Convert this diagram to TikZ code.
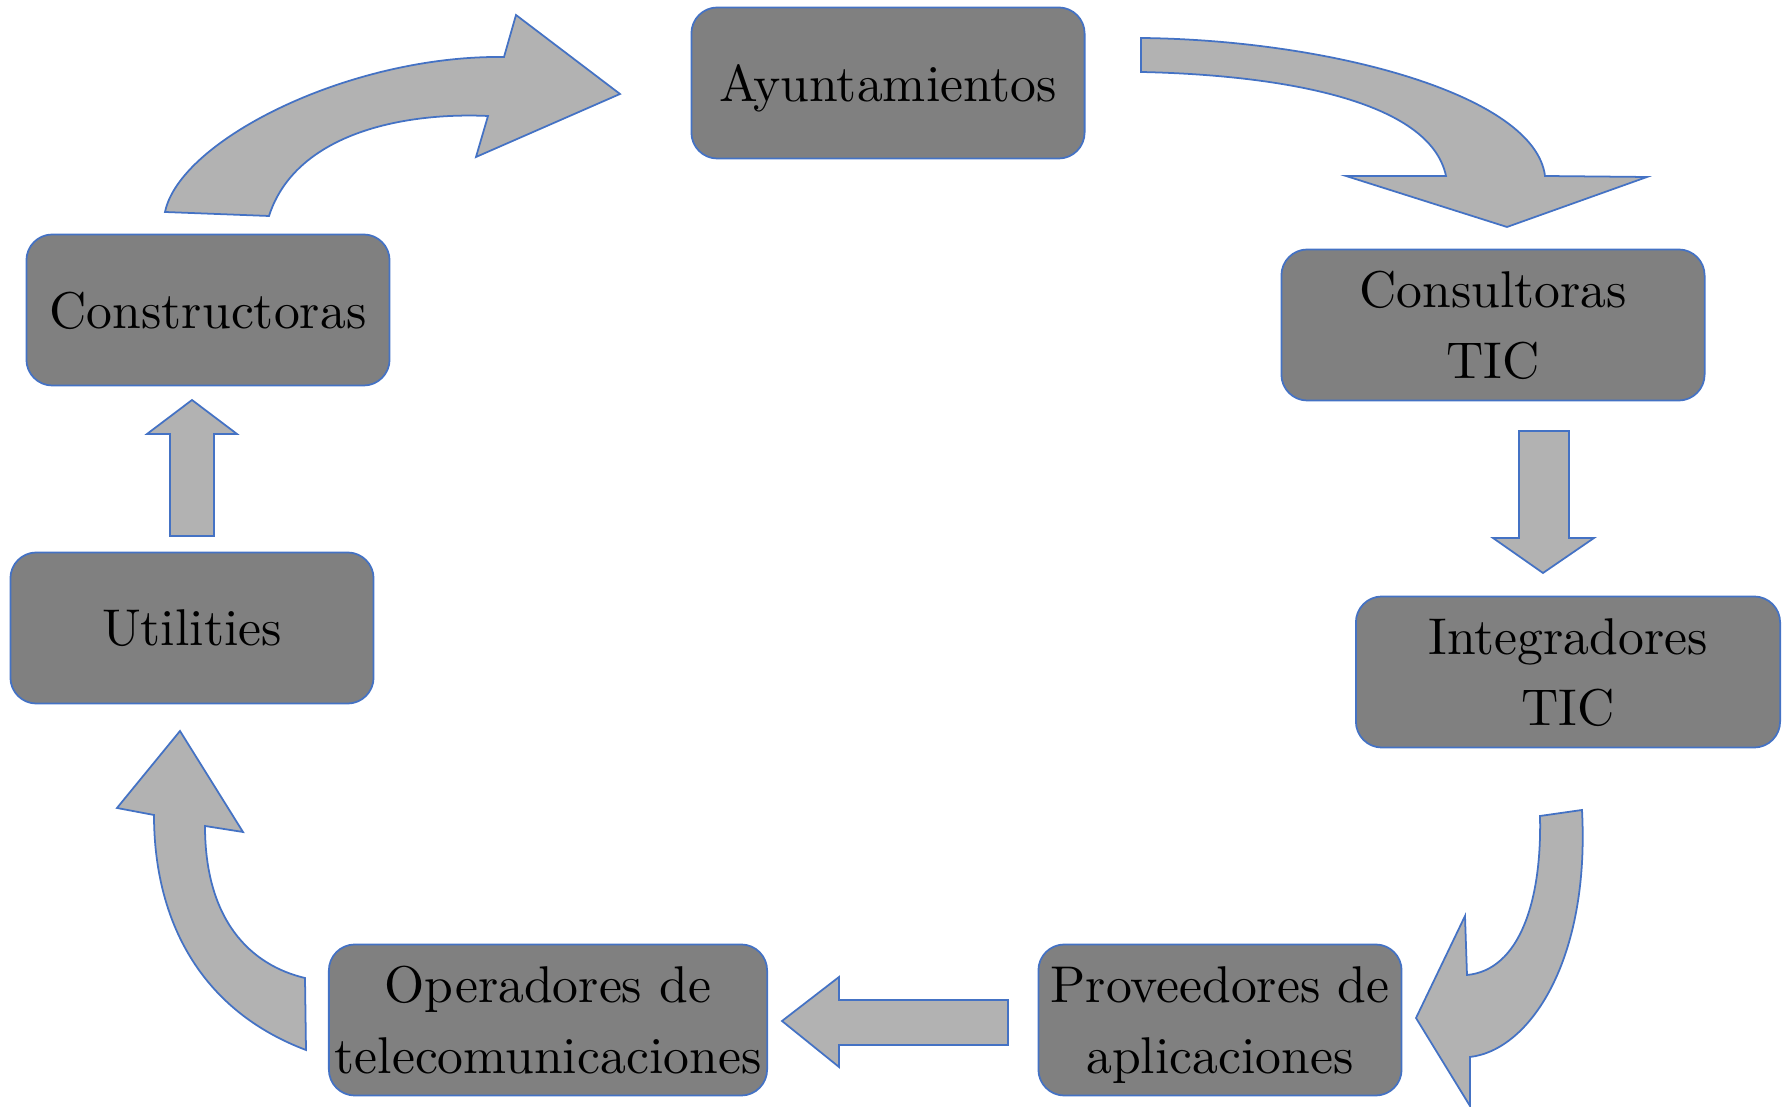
\documentclass[tikz,border=0pt]{standalone}
\usepackage{fontspec}
\setmainfont{lmroman10-regular.otf}
\usepackage{tikz}

\definecolor{boxgray}{HTML}{808080}
\definecolor{flowgray}{HTML}{B2B2B2}
\definecolor{edgeblue}{HTML}{4472C4}

\begin{document}
\begin{tikzpicture}[x=0.01cm, y=-0.01cm,
	actor/.style={draw=edgeblue, line width=0.5pt, fill=boxgray, rounded corners=0.26cm, minimum height=1.51cm, align=center, inner sep=0pt, text depth=0pt, font=\fontsize{14.7}{20.1}\selectfont},
	flow/.style={draw=edgeblue, line width=0.5pt, fill=flowgray, line join=miter}]

		\def \boxw {3.63} %in cm
		
		\useasboundingbox (0,0) rectangle (1784,1107);
		
		\node (Ayto) at (888,83) [actor, minimum width = 3.93cm]{Ayuntamientos};
		\node (Consul) at (1493,325) [actor, minimum width = 4.23cm]{Consultoras\\TIC};
		\node (Integ) at (1568,672) [actor, minimum width = 4.24cm]{Integradores\\TIC};
		\node (Prov) at (1220,1020) [actor, minimum width = \boxw cm]{Proveedores de\\aplicaciones};
		\node (Oper) at (548,1020) [actor, minimum width = 4.38cm]{Operadores de\\telecomunicaciones};
		\node (Util) at (192,628) [actor, minimum width = \boxw cm]{Utilities};
		\node (Constr) at (208,310) [actor, minimum width = \boxw cm]{Constructoras};
		
		% curved block arrows
		\draw[flow] (165,212) .. controls (180,140) and (350,55) .. (504,57) -- (516,15) -- (620,94) -- (476,157) -- (488,116) .. controls (400,112) and (295,135) .. (269,216) -- cycle;
		\draw[flow] (1141,38) .. controls (1330,40) and (1535,95) .. (1545,176) -- (1647,177) -- (1507,227) -- (1346,176) -- (1446,176) .. controls (1430,100) and (1280,75) .. (1141,72) -- cycle;
		\draw[flow] (1582,810) .. controls (1590,960) and (1530,1050) .. (1470,1057) -- (1470,1106) -- (1416,1018) -- (1465,916) -- (1467,975) .. controls (1520,970) and (1542,900) .. (1540,816) -- cycle;
		\draw[flow] (306,1050) .. controls (200,1010) and (154,920) .. (154,815) -- (117,808) -- (180,731) -- (243,832) -- (205,826) .. controls (205,920) and (250,965) .. (305,978) -- cycle;
		
		% straight block arrows
		\draw[flow] (1519,431) -- (1569,431) -- (1569,538) -- (1594,538) -- (1543,573) -- (1493,538) -- (1519,538) -- cycle;
		\draw[flow] (1008,1000) -- (1008,1045) -- (839,1045) -- (839,1067) -- (782,1021) -- (839,977) -- (839,1000) -- cycle;
		\draw[flow] (170,536) -- (214,536) -- (214,434) -- (237,434) -- (192,400) -- (147,434) -- (170,434) -- cycle;
	
	\end{tikzpicture}
\end{document}
